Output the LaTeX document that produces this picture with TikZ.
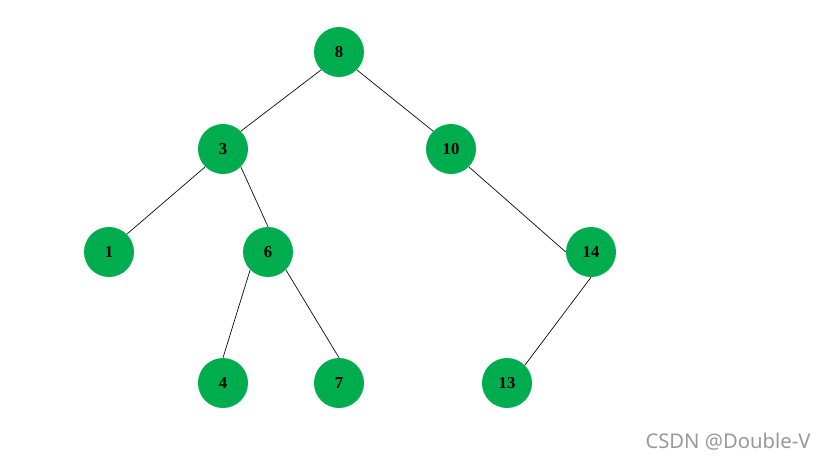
\documentclass[tikz,border=0pt]{standalone}
\usepackage{fontspec}
\newfontfamily\marksans{Noto Sans}
\newfontfamily\keyserif{Liberation Serif}
\usepackage{tikz}
\definecolor{nodegreen}{RGB}{0,173,78}
\colorlet{markgray}{black!40}

\tikzset{
  treenode/.style={circle,fill=nodegreen,minimum size=37.5pt,inner sep=0pt,
    font=\keyserif\bfseries\fontsize{12.5}{14}\selectfont},
  treeedge/.style={black,line width=0.5pt}
}

\begin{document}
\begin{tikzpicture}[x=0.75pt,y=-0.75pt]
        \useasboundingbox (0,0) rectangle (816,461);
        \node[treenode](n8) at (339,52) {8};
        \node[treenode](n3) at (223,149) {3};
        \node[treenode](n10) at (451,149) {10};
        \node[treenode](n1) at (109,252) {1};
        \node[treenode](n6) at (268,252) {6};
        \node[treenode](n14) at (591,252) {14};
        \node[treenode](n4) at (223,383) {4};
        \node[treenode](n7) at (339,383) {7};
        \node[treenode](n13) at (507,383) {13};
        \draw[treeedge] (n8.south west)--(n3.north east);
        \draw[treeedge] (n8.south east)--(n10.north west);
        \draw[treeedge] (n3.south west)--(n1.north east);
        \draw[treeedge] (n3.south east)--(n6.north);
        \draw[treeedge] (n6.south west)--(n4.north);
        \draw[treeedge] (n6.south east)--(n7.north);
        \draw[treeedge] (n10.south east)--(n14.west);
        \draw[treeedge] (n14.south)--(n13.north east);
        \node[markgray,anchor=base,font=\marksans\fontsize{15.2}{17}\selectfont](mark) at (728,448.5) {CSDN @Double-V};
    \end{tikzpicture}
\end{document}
